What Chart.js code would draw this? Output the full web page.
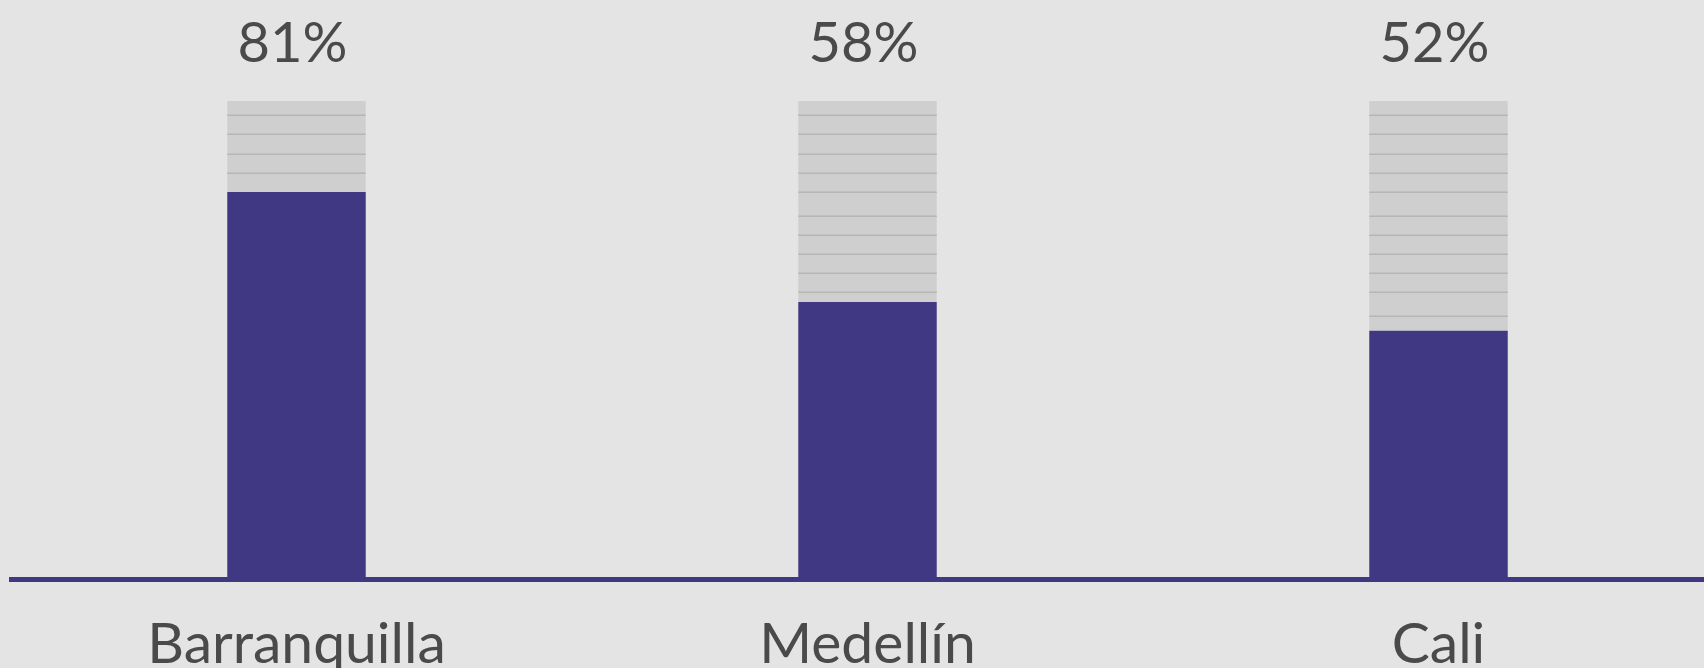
<!DOCTYPE html>
<html>
<head>
<meta charset="utf-8">
<script src="https://cdn.jsdelivr.net/npm/chart.js@4.4.0/dist/chart.umd.min.js"></script>
<style>
html,body{margin:0;padding:0;background:#e4e4e4;overflow:hidden;}
#wrap{position:relative;width:1704px;height:668px;overflow:hidden;}
canvas{display:block;}
</style>
</head>
<body>
<div id="wrap"><canvas id="c" width="1724" height="668"></canvas></div>
<script>
const categories = ["Barranquilla", "Medellín", "Cali"];
const shareValues = [81, 58, 52];
const totalValue = 100;
const stripeValues = [97, 93, 89, 85, 81, 76, 72, 68, 64, 60, 55];

const restValues = shareValues.map(v => totalValue - v);

const purple = "#413884";
const textColor = "#4a4a4a";

const overlayPlugin = {
  id: "overlay",
  afterDatasetsDraw(chart) {
    const ctx = chart.ctx;
    const y = chart.scales.y;
    const meta = chart.getDatasetMeta(1);
    ctx.save();
    ctx.strokeStyle = "#b6b6b6";
    ctx.lineWidth = 1.5;
    meta.data.forEach((bar, i) => {
      const half = bar.width / 2;
      stripeValues.forEach(sv => {
        if (sv > shareValues[i] + 0.5) {
          const py = Math.round(y.getPixelForValue(sv)) + 0.25;
          ctx.beginPath();
          ctx.moveTo(bar.x - half, py);
          ctx.lineTo(bar.x + half, py);
          ctx.stroke();
        }
      });
    });
    ctx.fillStyle = textColor;
    ctx.font = "56px Lato";
    ctx.textAlign = "center";
    ctx.textBaseline = "alphabetic";
    meta.data.forEach((bar, i) => {
      ctx.fillText(shareValues[i] + "%", bar.x - 4, y.getPixelForValue(totalValue) - 39);
    });
    ctx.restore();
  }
};

new Chart(document.getElementById("c"), {
  type: "bar",
  data: {
    labels: categories,
    datasets: [
      { data: shareValues, backgroundColor: purple, borderWidth: 0, stack: "s" },
      { data: restValues, backgroundColor: "#cfcfcf", borderWidth: 0, stack: "s" }
    ]
  },
  options: {
    responsive: false,
    maintainAspectRatio: false,
    animation: false,
    devicePixelRatio: 1,
    layout: { padding: { top: 101, left: 11, right: 0, bottom: 0 } },
    plugins: { legend: { display: false }, tooltip: { enabled: false } },
    datasets: { bar: { categoryPercentage: 1, barPercentage: 0.2425 } },
    scales: {
      x: {
        stacked: true,
        grid: { display: false, drawTicks: false },
        border: { display: true, color: purple, width: 5 },
        ticks: { color: textColor, font: { family: "Lato", size: 57 }, padding: 31 },
        afterFit(scale) { scale.height = 88.5; }
      },
      y: {
        stacked: true,
        display: false,
        min: 0,
        max: totalValue
      }
    }
  },
  plugins: [overlayPlugin]
});
</script>
</body>
</html>
